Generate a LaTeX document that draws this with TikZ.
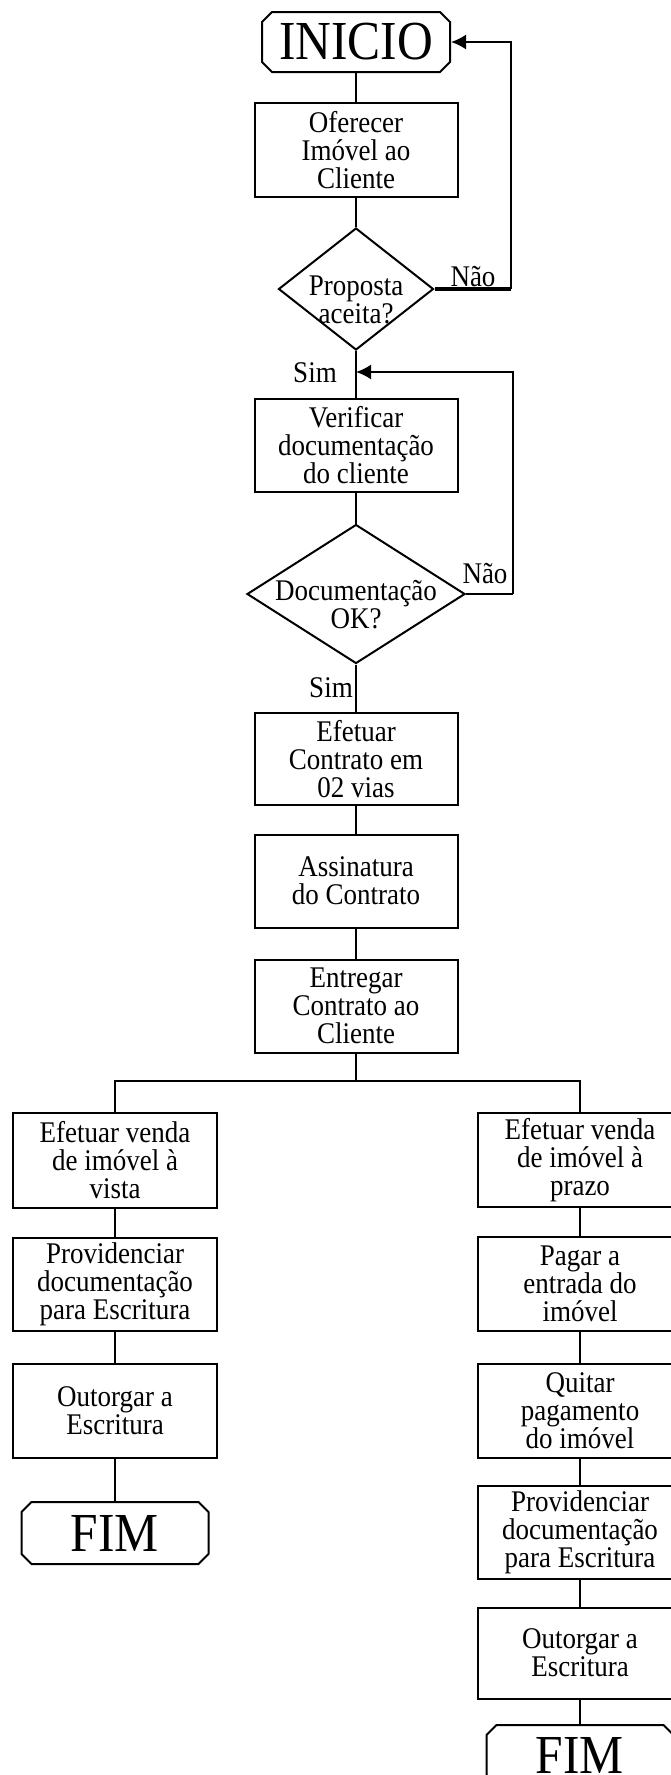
\documentclass[tikz,border=0pt]{standalone}
\usepackage{fontspec}
\setmainfont{Liberation Serif}[FakeStretch=0.9]
\usetikzlibrary{shapes.geometric, shapes.misc, arrows.meta}

\newcommand{\flowfont}{\fontsize{30}{28}\selectfont}
\newcommand{\termfont}{\fontsize{55}{55}\selectfont}

\tikzset{
  box/.style={draw, rectangle, minimum width=203pt, minimum height=93pt, inner sep=0pt, align=center, font=\flowfont},
  decision/.style={draw, diamond, inner sep=-30pt, text height=70pt, align=center, font=\flowfont},
  terminal/.style={draw, chamfered rectangle, chamfered rectangle xsep=5pt, chamfered rectangle ysep=5pt, minimum width=188pt, minimum height=60pt, inner sep=0pt, font=\termfont},
  lbl/.style={inner sep=0pt, anchor=base, font=\flowfont},
}

\begin{document}
\begin{tikzpicture}[x=1pt, y=-1pt, line width=2pt, >={Latex[length=15pt, width=15pt]}]
\useasboundingbox (0,0) rectangle (670,1775);

% Main column.
\node[terminal] (inicio) at (356,42) {INICIO};
\node[box, minimum height=94pt] (oferecer) at (356,150) {Oferecer\\Imóvel ao\\Cliente};
\node[decision, minimum width=155pt, minimum height=122pt] (proposta) at (356,289) {Proposta\\aceita?};
\node[box] (verificar) at (356,445) {Verificar\\documentação\\do cliente};
\node[decision, minimum width=218pt, minimum height=139pt] (documentos) at (356,594) {Documentação\\OK?};
\node[box, minimum height=92pt] (contrato) at (356,759) {Efetuar\\Contrato em\\02 vias};
\node[box] (assinatura) at (356,881) {Assinatura\\do Contrato};
\node[box] (entregar) at (356,1006) {Entregar\\Contrato ao\\Cliente};

% Left column (a vista).
\node[box, minimum width=204pt, minimum height=95pt] (vista) at (115,1160) {Efetuar venda\\de imóvel à\\vista};
\node[box, minimum width=204pt] (provvista) at (115,1284) {Providenciar\\documentação\\para Escritura};
\node[box, minimum width=204pt, minimum height=94pt] (outvista) at (115,1411) {Outorgar a\\Escritura};
\node[terminal, minimum width=187pt, minimum height=62pt] (fimvista) at (115,1533) {FIM};

% Right column (a prazo).
\node[box, minimum width=204pt, minimum height=94pt] (prazo) at (580,1160) {Efetuar venda\\de imóvel à\\prazo};
\node[box, minimum width=204pt, minimum height=94pt] (pagar) at (580,1284) {Pagar a\\entrada do\\imóvel};
\node[box, minimum width=204pt, minimum height=94pt] (quitar) at (580,1411) {Quitar\\pagamento\\do imóvel};
\node[box, minimum width=204pt] (provprazo) at (580,1532) {Providenciar\\documentação\\para Escritura};
\node[box, minimum width=204pt, minimum height=91pt] (outprazo) at (580,1653) {Outorgar a\\Escritura};
\node[terminal, minimum width=187pt, minimum height=60pt] (fimprazo) at (580,1755) {FIM};

% Labels.
\node[lbl] (nao1) at (473,286) {Não};
\node[lbl] (nao2) at (485,583) {Não};
\node[lbl] (sim1) at (315,382) {Sim};
\node[lbl] (sim2) at (331,697) {Sim};

% Straight links.
\foreach \a/\b in {inicio/oferecer, oferecer/proposta, proposta/verificar, verificar/documentos,
                   documentos/contrato, contrato/assinatura, assinatura/entregar,
                   vista/provvista, provvista/outvista, outvista/fimvista,
                   prazo/pagar, pagar/quitar, quitar/provprazo, provprazo/outprazo, outprazo/fimprazo}
  \draw (\a) -- (\b);

% Loops back.
\coordinate (volta1) at (511,289);
\coordinate (volta2) at (513,594);
\coordinate (retorno) at (356,372);
\draw[line width=4pt] (proposta.east) -- (volta1);
\draw[->] (volta1) |- (inicio.east);
\draw (documentos.east) -- (volta2);
\draw[->] (volta2) |- (retorno);

% Split.
\coordinate (split) at (356,1081);
\draw (entregar) -- (split);
\draw (vista) |- (split) -| (prazo);

\end{tikzpicture}
\end{document}
